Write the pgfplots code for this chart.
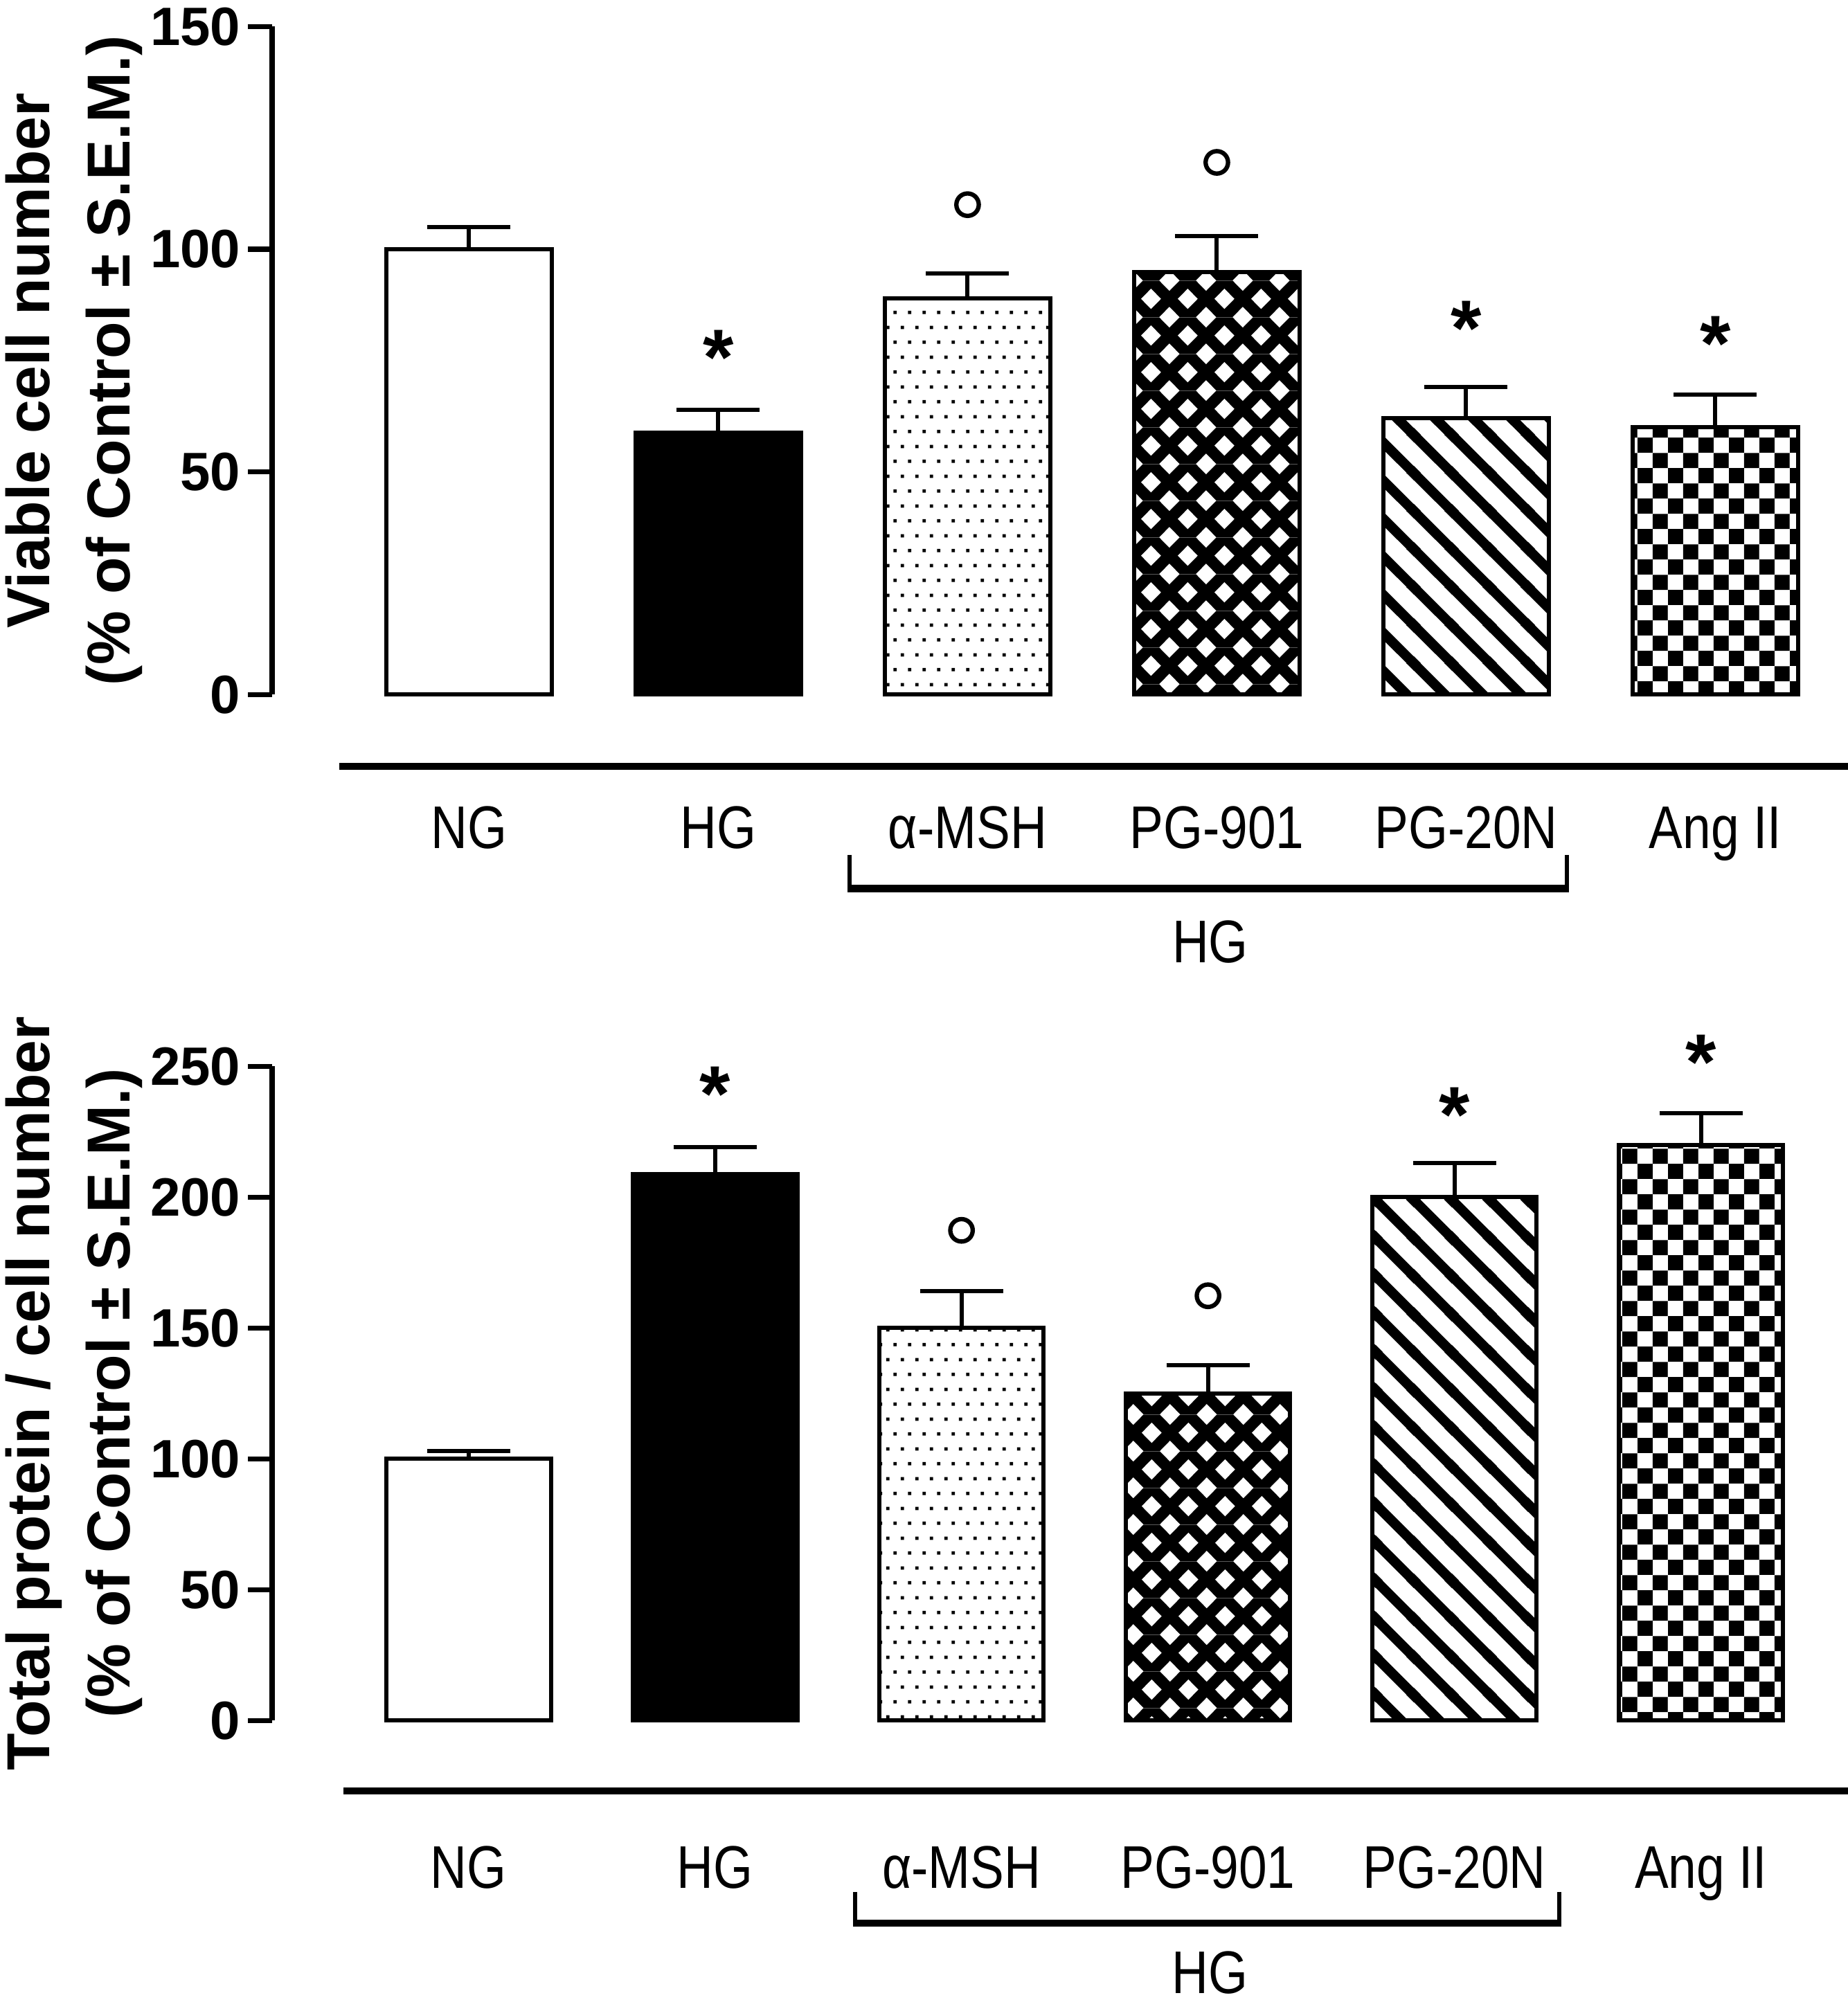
\documentclass[border=0pt]{standalone}
\usepackage{pgfplots}
\pgfplotsset{compat=1.18}
\usetikzlibrary{patterns}
\usepackage{fontspec}
\setmainfont{Liberation Sans}
\newfontfamily\narrowfont[FakeStretch=0.84]{Liberation Sans}

% ---- fill patterns ----
\pgfdeclarepatterninherentlycolored{mydots}{\pgfpointorigin}{\pgfpoint{3.58pt}{7.1pt}}{\pgfpoint{3.58pt}{7.1pt}}{%
  \pgfsetfillcolor{white}%
  \pgfpathrectangle{\pgfpointorigin}{\pgfpoint{3.58pt}{7.1pt}}\pgfusepath{fill}%
  \pgfsetfillcolor{black}%
  \pgfpathrectangle{\pgfpoint{0.4pt}{0.4pt}}{\pgfpoint{0.8pt}{0.8pt}}%
  \pgfpathrectangle{\pgfpoint{2.19pt}{3.95pt}}{\pgfpoint{0.8pt}{0.8pt}}%
  \pgfusepath{fill}}
\pgfdeclarepatterninherentlycolored{mydiamond}{\pgfpointorigin}{\pgfpoint{8.8pt}{8.8pt}}{\pgfpoint{8.8pt}{8.8pt}}{%
  \pgfsetfillcolor{black}%
  \pgfpathrectangle{\pgfpointorigin}{\pgfpoint{8.8pt}{8.8pt}}\pgfusepath{fill}%
  \pgfsetfillcolor{white}%
  \foreach \cx/\cy in {4.4/4.4,0/0,8.8/0,0/8.8,8.8/8.8}{%
    \pgfpathmoveto{\pgfpoint{\cx pt-2.4pt}{\cy pt}}%
    \pgfpathlineto{\pgfpoint{\cx pt}{\cy pt+2.45pt}}%
    \pgfpathlineto{\pgfpoint{\cx pt+2.4pt}{\cy pt}}%
    \pgfpathlineto{\pgfpoint{\cx pt}{\cy pt-2.45pt}}%
    \pgfpathclose}%
  \pgfusepath{fill}}
\pgfdeclarepatterninherentlycolored{mylines}{\pgfpointorigin}{\pgfpoint{9.2pt}{9.2pt}}{\pgfpoint{9.2pt}{9.2pt}}{%
  \pgfsetfillcolor{white}%
  \pgfpathrectangle{\pgfpointorigin}{\pgfpoint{9.2pt}{9.2pt}}\pgfusepath{fill}%
  \pgfsetstrokecolor{black}%
  \pgfsetlinewidth{2.4pt}%
  \pgfpathmoveto{\pgfpoint{-3pt}{12.2pt}}\pgfpathlineto{\pgfpoint{12.2pt}{-3pt}}%
  \pgfpathmoveto{\pgfpoint{-3pt}{3pt}}\pgfpathlineto{\pgfpoint{3pt}{-3pt}}%
  \pgfpathmoveto{\pgfpoint{6.2pt}{12.2pt}}\pgfpathlineto{\pgfpoint{12.2pt}{6.2pt}}%
  \pgfusepath{stroke}}
\pgfdeclarepatterninherentlycolored{mychecker}{\pgfpointorigin}{\pgfpoint{7.3pt}{7.3pt}}{\pgfpoint{7.3pt}{7.3pt}}{%
  \pgfsetfillcolor{white}%
  \pgfpathrectangle{\pgfpointorigin}{\pgfpoint{7.3pt}{7.3pt}}\pgfusepath{fill}%
  \pgfsetfillcolor{black}%
  \pgfpathrectangle{\pgfpointorigin}{\pgfpoint{3.65pt}{3.65pt}}%
  \pgfpathrectangle{\pgfpoint{3.65pt}{3.65pt}}{\pgfpoint{3.65pt}{3.65pt}}%
  \pgfusepath{fill}}

\pgfplotsset{
  bars/.style={ybar, bar width=#1, bar shift=0pt, draw=black, line width=1pt,
    error bars/y dir=plus, error bars/y explicit,
    error bars/error bar style={line width=1pt, black, solid},
    error bars/error mark options={rotate=90, mark size=10pt, line width=1pt, black}},
  myaxis/.style={scale only axis, clip=false, ymin=0,
    axis y line*=left, axis x line*=bottom,
    x axis line style={draw=none}, xtick style={draw=none},
    tick align=outside, major tick length=5.8pt,
    y axis line style={line width=1.2pt}, ytick style={line width=1.2pt, black},
    xtick={0,1,2,3,4,5},
    xticklabels={NG,HG,α-MSH,PG-901,PG-20N,Ang II},
    xticklabel style={font=\narrowfont\fontsize{14.5}{17}\selectfont, anchor=base},
    yticklabel style={font=\fontsize{13}{15}\selectfont\bfseries, xshift=1.7pt},
    /pgf/number format/assume math mode=true,
    ylabel style={font=\fontsize{14.6}{19.3}\selectfont\bfseries, align=center, anchor=south, inner sep=0pt, rotate=0},
  },
  starmarks/.style={only marks, mark=text, text mark={*}, text mark as node=true,
    text mark style={font=\fontsize{19}{19}\selectfont\bfseries, yshift=-3.5pt, inner sep=0pt}},
  circmarks/.style={only marks, mark=o, mark size=2.7pt, line width=1.05pt, black},
}

\begin{document}
\begin{tikzpicture}
\useasboundingbox (0pt,0pt) rectangle (444.83pt,481.5pt);

% ---------------- top panel ----------------
\begin{axis}[myaxis, at={(65.5pt,314.3pt)}, anchor=south west,
  width=377.4pt, height=160.8pt, xmin=-0.79, xmax=5.5, ymax=150,
  ytick={0,50,100,150},
  xticklabel style={yshift=-31.2pt},
  ylabel={Viable cell number\\(\% of Control ± S.E.M.)},
  ylabel style={at={(axis description cs:-0.0824,0.5)}}]
\addplot[bars=39.7pt, fill=white] coordinates {(0,100) +- (0,5)};
\addplot[bars=39.7pt, fill=black] coordinates {(1,58.8) +- (0,5.2)};
\addplot[bars=39.7pt, pattern=mydots] coordinates {(2,88.9) +- (0,5.7)};
\addplot[bars=39.7pt, pattern=mydiamond] coordinates {(3,94.9) +- (0,8.1)};
\addplot[bars=39.7pt, pattern=mylines] coordinates {(4,62) +- (0,7)};
\addplot[bars=39.7pt, pattern=mychecker] coordinates {(5,60) +- (0,7.4)};
\addplot[starmarks] coordinates {(1,78.9) (4,85.5) (5,82)};
\addplot[circmarks] coordinates {(2,110) (3,119.5)};
\end{axis}

% ---------------- bottom panel ----------------
\begin{axis}[myaxis, at={(65.5pt,67.3pt)}, anchor=south west,
  width=373.6pt, height=157.5pt, xmin=-0.797, xmax=5.5, ymax=250,
  ytick={0,50,100,150,200,250},
  xticklabel style={yshift=-34.5pt},
  ylabel={Total protein / cell number\\(\% of Control ± S.E.M.)},
  ylabel style={at={(axis description cs:-0.0832,0.5)}}]
\addplot[bars=39.6pt, fill=white] coordinates {(0,100) +- (0,3)};
\addplot[bars=39.6pt, fill=black] coordinates {(1,208.8) +- (0,10.2)};
\addplot[bars=39.6pt, pattern=mydots] coordinates {(2,150) +- (0,14)};
\addplot[bars=39.6pt, pattern=mydiamond] coordinates {(3,125) +- (0,10.8)};
\addplot[bars=39.6pt, pattern=mylines] coordinates {(4,200) +- (0,13)};
\addplot[bars=39.6pt, pattern=mychecker] coordinates {(5,220) +- (0,12)};
\addplot[starmarks] coordinates {(1,245) (4,237) (5,257)};
\addplot[circmarks] coordinates {(2,187.3) (3,162.3)};
\end{axis}

% ---------------- group decorations ----------------
\draw[line width=1.7pt] (81.7pt,297pt) -- (444.83pt,297pt);
\draw[line width=1pt] (204.5pt,275.7pt) -- (204.5pt,267.2pt);
\draw[line width=1pt] (377.2pt,275.7pt) -- (377.2pt,267.2pt);
\draw[line width=1.8pt] (204pt,267.6pt) -- (377.7pt,267.6pt);
\node[font=\narrowfont\fontsize{14.5}{17}\selectfont, anchor=base] at (291.3pt,249.8pt) {HG};

\draw[line width=1.7pt] (82.7pt,50.3pt) -- (444.83pt,50.3pt);
\draw[line width=1pt] (205.8pt,26pt) -- (205.8pt,18.1pt);
\draw[line width=1pt] (375.3pt,26pt) -- (375.3pt,18.1pt);
\draw[line width=1.8pt] (205.3pt,18.5pt) -- (375.8pt,18.5pt);
\node[font=\narrowfont\fontsize{14.5}{17}\selectfont, anchor=base] at (291.2pt,1.6pt) {HG};
\end{tikzpicture}
\end{document}
